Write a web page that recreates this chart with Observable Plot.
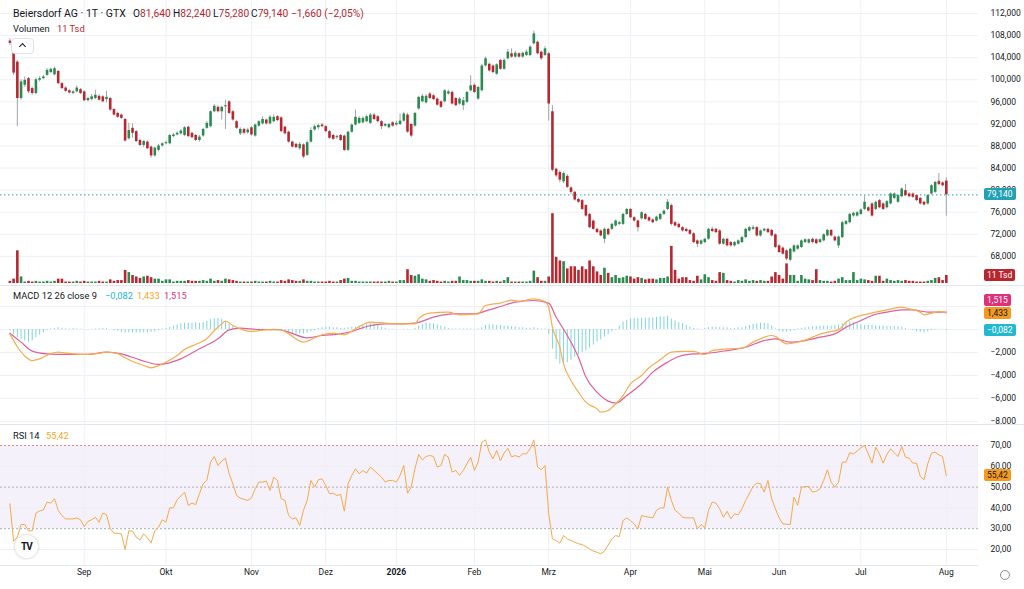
<!DOCTYPE html>
<html><head><meta charset="utf-8">
<script src="https://cdn.jsdelivr.net/npm/d3@7"></script>
<script src="https://cdn.jsdelivr.net/npm/@observablehq/plot@0.6"></script>
<style>
html,body{margin:0;padding:0;background:#fff;}
#wrap{position:relative;width:1024px;height:589px;overflow:hidden;font-family:Roboto,"Noto Sans",sans-serif;}
#wrap svg{position:absolute;left:0;overflow:visible;}
.ov{position:absolute;white-space:nowrap;line-height:14px;color:#131722;}
.bd{position:absolute;left:984px;height:12px;line-height:12px;padding:0 3px;font-size:8.5px;border-radius:2px;white-space:nowrap;}
.sep{position:absolute;left:0;width:1024px;height:1px;background:#e3e6ec;}
</style></head><body><div id="wrap"></div><script>
// ---------- data ----------
const open  = [107.0,106.9,103.2,96.6,99.0,100.2,98.4,97.5,99.9,100.2,100.8,101.3,100.9,101.5,99.3,98.5,98.0,97.5,97.8,98.2,97.8,96.2,96.4,96.6,97.0,96.9,96.4,96.6,94.6,93.9,93.6,92.8,89.3,91.2,90.6,89.0,88.1,88.7,87.8,86.2,87.2,88.0,88.4,88.4,89.7,90.0,90.2,89.9,91.4,90.3,89.9,89.0,89.8,91.2,91.5,94.2,95.0,94.2,95.1,96.0,94.2,92.4,90.2,91.0,90.4,91.3,89.8,91.6,92.0,92.7,92.0,92.4,93.3,93.1,91.4,90.5,88.7,88.3,87.5,88.2,86.3,88.7,90.9,91.3,91.8,91.5,90.6,89.9,89.5,89.9,89.8,87.2,90.5,91.8,92.1,92.2,92.4,92.1,93.6,93.3,92.4,91.6,91.3,92.2,91.8,91.9,92.5,93.6,91.9,91.6,94.7,96.0,95.8,97.4,97.1,96.5,96.0,96.0,97.4,97.7,96.6,95.6,95.3,95.9,98.0,99.0,96.5,98.0,102.5,102.8,102.5,101.0,103.5,101.9,103.8,104.7,104.1,104.7,104.1,104.4,104.4,106.5,106.8,105.0,104.4,104.7,94.2,83.8,83.2,81.5,82.5,80.4,79.6,78.3,78.1,77.2,75.6,74.4,72.9,72.6,71.1,72.9,72.9,73.5,73.8,73.8,75.6,76.5,75.0,74.4,74.8,75.6,75.0,74.6,74.4,74.7,75.6,76.5,77.2,74.1,73.8,73.2,72.9,72.7,72.1,70.8,70.2,70.5,71.1,72.9,72.9,72.6,70.2,71.1,70.5,69.9,70.2,70.5,71.4,72.6,72.9,73.2,71.7,72.6,72.9,72.7,71.9,69.9,69.5,69.0,67.3,68.8,69.3,69.6,70.5,70.4,71.1,71.0,70.5,70.8,71.7,72.7,71.5,69.9,71.4,73.8,74.1,75.3,75.3,75.6,76.5,76.8,77.5,76.5,78.1,77.5,76.8,77.5,78.5,77.8,78.8,79.9,79.3,79.3,79.0,78.5,77.8,77.5,79.3,79.6,81.6,81.3,81.64];
const high  = [107.4,107.2,103.5,100.0,100.5,100.4,98.7,100.3,100.6,100.8,102.0,102.1,102.3,101.7,99.5,98.7,98.2,98.0,98.9,98.4,98.0,96.8,97.3,98.1,97.3,97.1,97.9,96.8,94.8,94.1,93.8,93.0,92.1,92.0,90.8,89.3,89.0,88.9,88.0,87.8,88.3,88.6,88.9,90.1,90.3,90.6,91.0,91.5,91.6,90.5,90.1,89.9,91.2,92.4,94.4,95.5,95.3,95.2,96.3,96.2,94.4,92.6,91.3,91.2,91.2,91.5,92.0,92.6,93.3,92.9,93.5,93.6,93.5,93.3,91.6,90.7,88.9,88.5,88.6,88.4,88.9,91.3,91.8,92.0,92.1,91.7,90.8,90.1,90.0,90.1,90.0,90.7,92.0,94.5,93.3,93.3,93.6,93.9,93.9,93.5,92.6,92.1,92.1,92.4,92.5,93.8,94.1,93.9,92.1,94.1,97.0,97.3,97.3,97.7,97.3,96.7,96.2,98.2,98.1,98.0,96.8,96.8,96.8,97.9,100.7,99.3,98.8,102.8,104.1,103.0,102.7,102.9,103.7,103.8,105.5,105.6,105.1,104.9,105.0,105.4,106.2,108.8,107.0,105.2,106.0,105.0,95.3,84.0,83.5,83.3,82.8,80.6,79.8,78.5,78.3,77.4,75.8,74.6,73.1,72.8,73.1,73.1,74.0,74.6,74.3,75.8,76.7,76.7,75.2,74.6,76.1,75.8,75.2,74.8,75.3,75.8,76.4,78.3,77.5,74.3,74.0,73.4,73.1,72.9,72.3,71.0,71.0,71.3,73.1,73.3,73.1,72.8,71.3,71.3,70.7,70.7,71.0,71.6,73.1,73.4,73.6,73.4,72.8,73.1,73.1,72.9,72.1,70.1,69.7,69.2,69.5,70.1,70.1,71.0,71.2,71.2,71.3,71.2,71.2,72.1,72.9,72.9,71.7,71.7,74.3,74.5,75.8,76.0,76.1,76.6,79.0,77.0,77.7,78.0,78.3,77.7,78.1,79.5,79.5,79.2,80.4,81.0,79.5,79.5,79.2,78.7,78.0,79.2,81.0,81.6,83.0,81.5,82.24];
const low   = [106.2,100.8,91.5,96.3,98.6,97.5,97.2,97.3,99.6,100.0,100.6,101.1,100.7,99.1,98.2,97.7,97.4,97.3,97.6,97.3,96.0,96.0,96.2,96.4,96.1,95.8,95.8,94.3,93.4,93.0,92.8,88.7,89.1,89.4,88.6,87.9,87.7,87.3,85.8,86.0,86.9,87.8,88.2,88.2,89.5,89.8,90.0,89.7,89.5,89.3,88.8,88.7,89.6,91.0,91.3,94.0,94.0,92.7,91.0,93.7,92.5,91.0,89.9,90.0,90.1,89.8,89.6,91.4,91.8,91.8,91.8,92.2,92.4,90.4,90.0,88.5,87.6,87.5,87.2,85.7,86.1,88.5,90.7,90.9,91.3,90.4,89.2,89.0,89.2,88.8,87.0,87.0,90.3,91.6,91.9,92.0,92.2,91.9,92.6,92.2,91.0,91.4,91.1,91.4,91.6,91.7,92.3,90.3,89.5,91.4,94.5,95.8,95.6,96.4,96.2,95.2,94.8,95.8,97.2,95.4,95.1,95.4,94.4,95.7,97.8,97.5,96.3,97.8,102.3,101.4,101.1,100.8,101.7,101.7,103.6,103.9,103.9,103.9,103.9,104.2,104.2,106.3,104.5,103.5,104.2,92.5,83.3,82.3,81.3,81.2,80.3,79.2,78.0,77.6,76.3,75.1,73.0,72.7,72.1,71.5,70.3,71.7,72.7,73.3,73.6,73.6,75.4,74.8,74.2,72.4,74.6,74.5,74.2,73.9,74.2,74.5,75.4,76.3,73.5,73.3,73.0,72.4,72.3,71.8,70.3,69.6,70.0,70.3,70.9,72.3,72.1,70.0,70.0,69.7,69.7,69.7,70.0,70.3,71.2,72.4,72.7,71.5,71.5,72.4,72.1,71.5,69.4,68.5,68.2,67.2,67.0,68.6,69.1,69.4,70.3,70.2,70.3,70.1,70.3,70.6,71.5,71.5,70.6,69.4,71.2,73.6,73.9,75.1,75.1,75.4,76.3,76.0,75.1,76.3,76.6,76.3,76.6,77.3,78.3,77.6,78.6,78.8,78.6,78.5,77.9,77.3,77.1,77.3,79.1,79.4,80.8,80.6,75.28];
const close = [106.6,101.2,96.6,99.6,99.9,97.8,97.5,100.0,100.2,100.5,101.7,101.9,102.0,99.3,98.4,97.9,97.6,97.8,98.5,97.5,96.2,96.6,96.9,97.2,96.3,96.0,96.8,94.5,93.6,93.2,93.0,88.9,90.8,90.3,88.8,88.1,88.8,87.5,86.2,87.6,88.0,88.4,88.6,89.9,90.0,90.3,90.7,91.3,89.7,89.5,89.0,89.6,91.0,92.1,94.2,95.2,94.2,95.0,95.3,93.9,92.7,91.2,91.0,90.3,90.9,90.0,91.8,92.4,92.8,92.0,93.2,93.2,92.6,90.6,90.2,88.7,87.8,87.7,88.3,86.0,88.6,90.8,91.5,91.7,91.5,90.6,89.4,89.2,89.7,89.0,87.2,90.5,91.8,93.2,93.0,93.0,93.3,93.6,92.8,92.4,91.5,91.9,91.9,91.6,92.1,92.5,93.8,90.5,89.8,93.9,96.8,97.0,97.0,96.6,96.4,95.4,95.0,98.0,97.8,95.6,95.3,96.5,96.2,97.7,98.9,97.7,98.6,102.5,103.8,101.6,101.3,102.7,101.9,103.5,105.0,104.1,104.8,104.1,104.8,105.0,105.9,108.3,104.7,103.8,105.6,95.6,83.6,82.6,81.8,83.0,80.5,79.6,78.2,77.8,76.5,75.3,73.2,72.9,72.3,71.7,72.9,71.9,73.8,74.4,74.1,75.6,76.5,75.0,74.4,73.2,75.9,74.7,74.4,74.1,75.1,75.6,76.2,77.8,73.8,73.5,73.2,72.6,72.5,72.0,70.5,70.2,70.8,71.1,72.9,72.5,72.3,70.2,71.1,69.9,69.9,70.5,70.8,71.4,72.9,73.2,73.2,71.7,72.6,72.9,72.3,71.7,69.6,68.7,68.4,67.5,69.3,69.9,69.9,70.8,71.0,71.0,70.5,70.3,71.0,71.9,72.7,71.7,70.8,71.5,74.1,74.3,75.6,75.8,75.9,76.4,77.8,76.2,75.3,77.8,76.8,76.5,77.9,79.3,79.3,79.0,80.2,79.0,78.8,78.7,78.1,77.5,77.3,79.0,80.8,81.4,81.0,80.8,79.14];
const volume = [3,6,45,9,2,3,2,3,2,2, 3,2,3,6,6,2,2,2,3,2, 3,2,2,2,3,2,2,5,3,4, 4,18,15,11,9,7,9,10,8,6, 6,3,5,5,2,3,3,3,4,3, 3,3,4,3,6,3,4,3,6,5, 4,3,2,2,2,2,3,2,2,2, 3,2,2,4,3,5,4,3,3,5, 3,3,2,2,2,2,3,2,2,4, 6,7,3,3,2,2,2,2,2,2, 2,2,3,2,2,4,4,19,11,10, 12,6,5,3,4,3,2,3,2,3, 3,9,4,4,3,3,3,5,3,3, 2,3,2,4,8,2,2,2,2,2, 3,17,8,3,3,9,96,36,31,30, 20,23,23,18,23,19,31,23,16,11, 21,14,8,11,7,8,10,9,6,8, 7,5,6,6,5,7,7,9,51,18, 6,8,8,4,3,10,5,12,8,4, 3,15,14,4,3,2,4,3,5,3, 4,3,4,3,3,9,15,11,6,27, 11,11,3,11,6,5,4,19,4,3, 3,2,3,6,8,4,4,15,4,6, 5,4,3,10,10,3,6,4,3,4, 3,4,3,3,2,2,2,3,4,7, 8,4,11];
const macdIdx = [0,2,4,6,8,11,13,15,20,24,26,29,31,33,36,38,40,42,45,47,50,53,55,57,58,60,62,65,69,73,75,79,80,84,87,90,93,97,101,105,109,110,113,118,121,126,128,132,135,137,141,144,145,146,148,149,151,153,155,158,159,161,163,165,167,170,172,175,178,181,184,187,189,193,197,200,203,205,206,209,212,215,217,220,223,225,228,231,233,236,240,242,245,246,249,250,252];
const macdVal = [-0.4,-1.5,-2.3,-2.7,-2.55,-2.1,-1.97,-2.05,-2.17,-2.06,-1.97,-2.1,-2.46,-2.78,-3.13,-3.33,-3.15,-2.84,-2.26,-1.74,-1.3,-0.81,-0.09,0.49,0.72,0.35,0.06,-0.17,-0.03,-0.03,-0.38,-1.1,-1.01,-0.46,-0.32,-0.46,0.06,0.64,0.55,0.49,0.49,0.93,1.42,1.51,1.28,1.36,2.09,2.3,2.55,2.46,2.67,2.43,1.94,0.2,-1.54,-2.99,-4.43,-5.45,-6.32,-6.9,-7.19,-7.04,-6.46,-5.74,-4.72,-4.0,-3.33,-2.64,-1.97,-1.91,-1.91,-2.17,-1.83,-1.68,-1.62,-1.1,-0.67,-0.52,-0.6,-1.25,-1.1,-0.81,-0.52,-0.23,-0.03,0.64,1.13,1.36,1.51,1.71,1.94,1.8,1.51,1.28,1.51,1.57,1.433];
const signalIdx = [0,3,6,10,15,21,26,30,35,40,46,51,56,59,62,67,72,75,80,84,89,92,96,101,105,109,114,119,125,129,132,136,141,145,147,150,153,155,158,161,163,166,170,173,177,180,184,188,193,198,203,206,210,214,218,222,225,229,232,236,240,243,247,250,252];
const signalVal = [-0.32,-1.1,-1.88,-2.12,-2.17,-2.17,-1.97,-2.12,-2.64,-3.04,-2.55,-1.68,-0.81,-0.03,0.12,0,0,-0.23,-0.72,-0.52,-0.38,-0.17,0.26,0.49,0.49,0.55,1.07,1.36,1.36,1.71,2.0,2.38,2.52,2.29,1.07,-0.52,-2.41,-4.14,-5.45,-6.23,-6.41,-5.74,-4.72,-3.71,-2.84,-2.35,-2.12,-2.06,-1.83,-1.54,-0.96,-0.81,-1.1,-0.96,-0.67,-0.38,0.2,0.78,1.22,1.51,1.71,1.71,1.51,1.51,1.515];
const histogram = [-0.1,-0.4,-0.7,-0.9,-1.0,-1.1,-1.0,-0.7,-0.5,-0.3, -0.1,0.05,0.1,0.15,0.1,0.05,0.05,0.08,0.05,0.03, 0.0,-0.02,0.03,0.05,0.08,0.1,0.08,0.0,-0.1,-0.15, -0.25,-0.3,-0.3,-0.3,-0.3,-0.3,-0.3,-0.3,-0.25,-0.2, -0.1,0.05,0.1,0.2,0.3,0.4,0.5,0.55,0.55,0.55, 0.6,0.55,0.6,0.7,0.85,0.95,0.95,0.9,0.7,0.45, 0.25,0.1,0.05,0.02,-0.03,-0.05,0.03,0.05,0.04,0.02, 0.0,0.03,0.0,-0.08,-0.15,-0.25,-0.35,-0.4,-0.4,-0.4, -0.3,-0.2,-0.1,0.1,0.15,0.2,0.2,0.15,0.15,0.1, 0.1,0.15,0.2,0.2,0.3,0.4,0.45,0.5,0.45,0.35, 0.2,0.1,0.02,0.03,0.02,0.0,0.02,0.03,0.01,0.1, 0.3,0.45,0.55,0.55,0.5,0.4,0.3,0.2,0.1,0.05, 0.05,0.04,0.05,0.06,0.05,0.03,0.05,0.15,0.35,0.4, 0.4,0.35,0.35,0.3,0.3,0.25,0.2,0.15,0.15,0.1, 0.1,0.15,0.1,0.05,0.05,-0.4,-1.7,-2.6,-3.0,-3.1, -2.9,-2.7,-2.4,-2.2,-2.0,-1.85,-1.6,-1.35,-1.1,-0.9, -0.65,-0.45,-0.2,-0.05,0.3,0.65,0.8,0.9,0.95,0.95, 0.95,1.0,1.0,1.0,1.05,1.1,1.1,1.15,0.9,0.75, 0.6,0.5,0.35,0.2,0.1,0.05,0.02,0.1,0.15,0.2, 0.2,0.15,0.15,0.15,0.1,0.1,0.15,0.15,0.25,0.35, 0.45,0.5,0.55,0.55,0.5,0.3,0.05,-0.15,-0.25,-0.25, -0.2,-0.1,0.05,0.1,0.15,0.2,0.25,0.25,0.3,0.3, 0.3,0.3,0.35,0.4,0.5,0.6,0.65,0.6,0.5,0.4, 0.35,0.35,0.35,0.3,0.3,0.3,0.25,0.25,0.25,0.25, 0.2,0.1,0.0,-0.1,-0.2,-0.25,-0.3,-0.2,-0.1,-0.05, 0.02,-0.02,-0.082];
const rsiIdx = [0,1,2,3,4,5,6,7,8,9,10,11,12,13,14,15,17,18,19,20,21,22,23,24,25,26,27,28,30,31,32,33,34,35,36,37,38,39,40,41,42,43,44,45,47,48,49,50,51,52,53,54,55,56,57,58,59,60,61,62,64,65,66,67,68,69,70,71,72,73,74,75,76,77,78,79,80,81,82,83,84,85,86,87,88,89,90,91,92,93,94,95,96,97,98,100,101,102,103,104,105,106,107,108,109,110,111,112,113,114,115,116,117,118,119,120,121,122,123,124,125,126,127,128,129,130,131,132,133,134,135,136,137,138,139,140,141,142,143,144,145,146,147,148,149,150,152,153,154,156,157,158,159,160,162,163,164,165,166,167,168,169,170,171,173,174,175,176,177,178,179,180,181,182,184,185,186,187,188,189,190,191,192,193,194,195,196,197,198,200,201,202,203,204,205,206,207,208,210,211,212,213,215,216,217,218,219,220,221,222,223,224,225,226,227,228,229,230,231,232,233,234,235,236,237,238,239,240,241,242,243,244,245,246,247,248,249,250,251,252];
const rsiVal = [42,24,26,32,32,29,29,37.5,38.5,39,42.8,42.3,44.4,38.8,36.3,34.7,34.7,35.2,34.3,31,33.5,34.3,35.5,33.1,37.5,36.7,30,27.9,27.5,20,29,28.8,25.9,24.6,27.5,25.6,23.2,29,30.7,34.3,33.1,40,40,43.9,47.6,41.2,42.3,41.6,46.8,51.6,53.2,62,64.7,60.4,62.5,63.9,56.4,51.6,46,44.7,43.6,44.8,49.2,52.4,52.4,52.9,48.4,54.8,53.2,44.4,43.6,36.3,34.7,35.2,31.5,38.8,43.6,53.2,50,53.5,54,50.8,46.8,47.1,46,46.5,38.4,51.6,55.6,58.8,56.4,58,56.7,59.6,58,54.8,52.4,53.2,53.2,52.4,55.6,60.4,47.1,50,58.8,65.7,63.1,64.7,65.2,64.7,59.6,60.4,65.7,64.4,57.2,58,55.6,58,61.2,64.4,58,62,71.6,72.7,66.8,63.6,67.6,62.6,66.4,68.6,64.5,65.2,64.4,66,66,68.4,72.7,59.6,58.3,60.4,37.1,25.1,24.3,23,26.7,25.1,23.5,22.7,22.4,20.3,19.2,18.7,17.9,19.2,25.1,26.7,26.2,33.9,35.2,33.9,32.3,29.9,36.3,35.9,35.2,38.8,40,40,50,43.6,38.8,37.5,35.5,35.2,35.2,29.9,32,30.4,38.8,42.8,42.3,39.6,35.5,38.4,34.7,37.1,36.7,39.6,43.6,50.3,51.9,51.6,47.6,53.2,44.4,39.6,35.2,32.3,32,45.2,41.2,50,50.3,47.6,48,49.2,53.2,58.3,52.4,50,52.4,62,62,66.5,66,67.3,68.9,70,66,61.5,69.2,66,61.5,65.7,68.4,66.5,64.7,69.5,64.4,63.9,61.5,61.5,55.1,53.5,61.2,66.3,66.8,65.5,64.7,55.42];
const monthIdx = [20,42,65,85,104,125,145,167,187,207,229,252];
const monthLbl = ["Sep","Okt","Nov","Dez","2026","Feb","Mrz","Apr","Mai","Jun","Jul","Aug"];
const priceTicks = [68,72,76,80,84,88,92,96,100,104,108,112];
const macdGrid = [-8,-6,-4,-2,0,2];
const macdTickLabels = [-8,-6,-4,-2];
const rsiTicks = [20,30,40,50,60,70];

// ---------- styling ----------
const G = "#2b8a4f", R = "#b8272f", WICK = "#9ea3ab", GRID = "#edf0f4";
const FONT = 'Roboto, "Noto Sans", sans-serif';
const X = {domain: [-2.53, 260.66], range: [0, 978], axis: null};
const fmt3 = d => d.toFixed(3).replace(".", ",").replace("-", "\u2212");
const fmt2 = d => d.toFixed(2).replace(".", ",");
const base = {width: 1024, marginLeft: 0, marginRight: 46, marginTop: 0};
const st = {background: "transparent", fontFamily: FONT, fontSize: "8.5px", color: "#131722", overflow: "visible"};

const bars = close.map((c, i) => ({i, o: open[i], h: high[i], l: low[i], c, v: volume[i], col: c >= open[i] ? G : R}));
const macdPts = macdIdx.map((i, k) => ({i, v: macdVal[k]}));
const sigPts = signalIdx.map((i, k) => ({i, v: signalVal[k]}));
const histPts = histogram.map((h, i) => ({i, h}));
const rsiPts = rsiIdx.map((i, k) => ({i, r: rsiVal[k]}));
const months = monthIdx.map((i, k) => ({i, l: monthLbl[k]}));
const last = bars[bars.length - 1];

const wrap = document.getElementById("wrap");

// price pane
const pricePlot = Plot.plot({...base, height: 285, marginBottom: 0, style: st,
  x: X,
  y: {domain: [62.72, 114.36], range: [285, 0], axis: "right", ticks: priceTicks, tickFormat: fmt3, tickSize: 0, tickPadding: 12, label: null},
  marks: [
    Plot.ruleX(monthIdx, {stroke: GRID}),
    Plot.ruleY(priceTicks, {stroke: GRID}),
    Plot.ruleY([last.c], {stroke: "#22a1b5", strokeDasharray: "1.5,2.5"}),
    Plot.ruleX(bars, {x: "i", y1: "l", y2: "h", stroke: WICK, strokeWidth: 1}),
    Plot.ruleX(bars, {x: "i", y1: "o", y2: "c", stroke: "col", strokeWidth: 2.6})
  ]});
pricePlot.style.top = "0px"; wrap.appendChild(pricePlot);

// volume overlay
const volPlot = Plot.plot({...base, height: 285, marginBottom: 0, style: st,
  x: X, y: {domain: [0, 100], range: [283, 210.3], axis: null},
  marks: [Plot.ruleX(bars, {x: "i", y1: 0, y2: "v", stroke: "col", strokeWidth: 2.6})]});
volPlot.style.top = "0px"; wrap.appendChild(volPlot);

// MACD pane
const macdPlot = Plot.plot({...base, height: 139, marginBottom: 0, style: st,
  x: X,
  y: {domain: [-8.26, 3.826], range: [139, 0], axis: "right", ticks: macdTickLabels, tickFormat: fmt3, tickSize: 0, tickPadding: 12, label: null},
  marks: [
    Plot.ruleX(monthIdx, {stroke: GRID}),
    Plot.ruleY(macdGrid, {stroke: GRID}),
    Plot.ruleX(histPts, {x: "i", y1: 0, y2: "h", stroke: "#7fd4e0", strokeWidth: 1}),
    Plot.line(sigPts, {x: "i", y: "v", stroke: "#e0609a", strokeWidth: 1.2, curve: "monotone-x"}),
    Plot.line(macdPts, {x: "i", y: "v", stroke: "#f6ad4c", strokeWidth: 1.2, curve: "monotone-x"})
  ]});
macdPlot.style.top = "285px"; wrap.appendChild(macdPlot);

// RSI pane + time axis
const rsiPlot = Plot.plot({...base, height: 165, marginBottom: 24, style: st,
  x: X,
  y: {domain: [12.3, 80.1], range: [141, 0], axis: "right", ticks: rsiTicks, tickFormat: fmt2, tickSize: 0, tickPadding: 12, label: null},
  marks: [
    Plot.rect([{a: 30, b: 70}], {x1: X.domain[0], x2: X.domain[1], y1: "a", y2: "b", fill: "#7e57c2", fillOpacity: 0.085}),
    Plot.ruleX(monthIdx, {stroke: GRID}),
    Plot.ruleY([20, 40, 60], {stroke: GRID}),
    Plot.ruleY([70], {stroke: "#d98c9c", strokeDasharray: "2,2"}),
    Plot.ruleY([50], {stroke: "#a9adb5", strokeDasharray: "2,2"}),
    Plot.ruleY([30], {stroke: "#9fb0ae", strokeDasharray: "2,2"}),
    Plot.line(rsiPts, {x: "i", y: "r", stroke: "#f5a94a", strokeWidth: 1}),
    Plot.text(months.filter(d => d.l !== "2026"), {x: "i", text: "l", frameAnchor: "bottom", dy: 9, fill: "#131722", fontSize: 8.5}),
    Plot.text(months.filter(d => d.l === "2026"), {x: "i", text: "l", frameAnchor: "bottom", dy: 9, fill: "#131722", fontSize: 8.5, fontWeight: "bold"})
  ]});
rsiPlot.style.top = "424px"; wrap.appendChild(rsiPlot);

// separators
[285, 424, 565].forEach(y => { const s = document.createElement("div"); s.className = "sep"; s.style.top = y + "px"; if (y === 565) s.style.width = "978px"; wrap.appendChild(s); });

// text helpers
function txt(x, yc, s, fs, c, fw) {
  const d = document.createElement("div"); d.className = "ov"; d.textContent = s;
  d.style.left = x + "px"; d.style.top = (yc - 7) + "px"; d.style.fontSize = fs + "px";
  if (c) d.style.color = c; if (fw) d.style.fontWeight = fw; wrap.appendChild(d); return d;
}
function badge(yc, s, bg, fg) {
  const d = document.createElement("div"); d.className = "bd"; d.textContent = s;
  d.style.top = (yc - 6) + "px"; d.style.background = bg; d.style.color = fg; wrap.appendChild(d);
}
const RED = "#b8272f";
txt(13, 13.5, "Beiersdorf AG \u00b7 1T \u00b7 GTX", 10.5);
[["O", "81,640", 133], ["H", "82,240", 173], ["L", "75,280", 213], ["C", "79,140", 251]].forEach(([k, v, x]) => {
  const d = txt(x, 13.5, k, 10.2); const sp = document.createElement("span"); sp.textContent = v; sp.style.color = RED; d.appendChild(sp);
});
txt(291, 13.5, "\u22121,660 (\u22122,05%)", 10.2, RED);
txt(13, 29, "Volumen", 9.3);
txt(57, 29, "11 Tsd", 9.3, RED);
// collapse button with a chevron
const btn = document.createElement("div");
btn.style.cssText = "position:absolute;left:11px;top:38px;width:21px;height:14px;border:1px solid #dfe2e8;border-radius:4px;background:#fff;";
const chev = document.createElement("div");
chev.style.cssText = "position:absolute;left:8px;top:5px;width:4px;height:4px;border-left:1.3px solid #131722;border-top:1.3px solid #131722;transform:rotate(45deg);";
btn.appendChild(chev); wrap.appendChild(btn);
txt(13, 295.5, "MACD 12 26 close 9", 9.3);
txt(105, 295.5, "\u22120,082", 9.3, "#22b8cf");
txt(137, 295.5, "1,433", 9.3, "#f5a623");
txt(164, 295.5, "1,515", 9.3, "#e0307a");
txt(13, 436, "RSI 14", 9.3);
txt(46, 436, "55,42", 9.3, "#f5a623");

// value badges on the right axis (positions from the plots' own scales)
const yP = pricePlot.scale("y"), yV = volPlot.scale("y"), yM = macdPlot.scale("y"), yR = rsiPlot.scale("y");
badge(yP.apply(last.c), fmt3(last.c), "#22a1b5", "#fff");
badge(yV.apply(last.v), "11 Tsd", RED, "#fff");
const y1433 = 285 + yM.apply(macdVal[macdVal.length - 1]);
badge(y1433 - 12.5, "1,515", "#e0307a", "#fff");
badge(y1433, "1,433", "#f59a1c", "#131722");
badge(285 + yM.apply(histogram[histogram.length - 1]), "\u22120,082", "#22b8cf", "#fff");
badge(424 + yR.apply(rsiVal[rsiVal.length - 1]), "55,42", "#f59a1c", "#131722");

// logo + settings icon
const logo = document.createElement("div");
logo.style.cssText = "position:absolute;left:15px;top:535px;width:23px;height:23px;border-radius:50%;background:#fff;box-shadow:0 0 3px rgba(0,0,0,0.25);font:bold 10px Roboto,sans-serif;line-height:23px;text-align:center;color:#131722;letter-spacing:-1px;";
logo.textContent = "TV"; wrap.appendChild(logo);
const gear = document.createElement("div");
gear.style.cssText = "position:absolute;left:1000px;top:570px;width:8px;height:8px;border-radius:50%;border:1.5px solid #8a8f98;";
wrap.appendChild(gear);
</script></body></html>
